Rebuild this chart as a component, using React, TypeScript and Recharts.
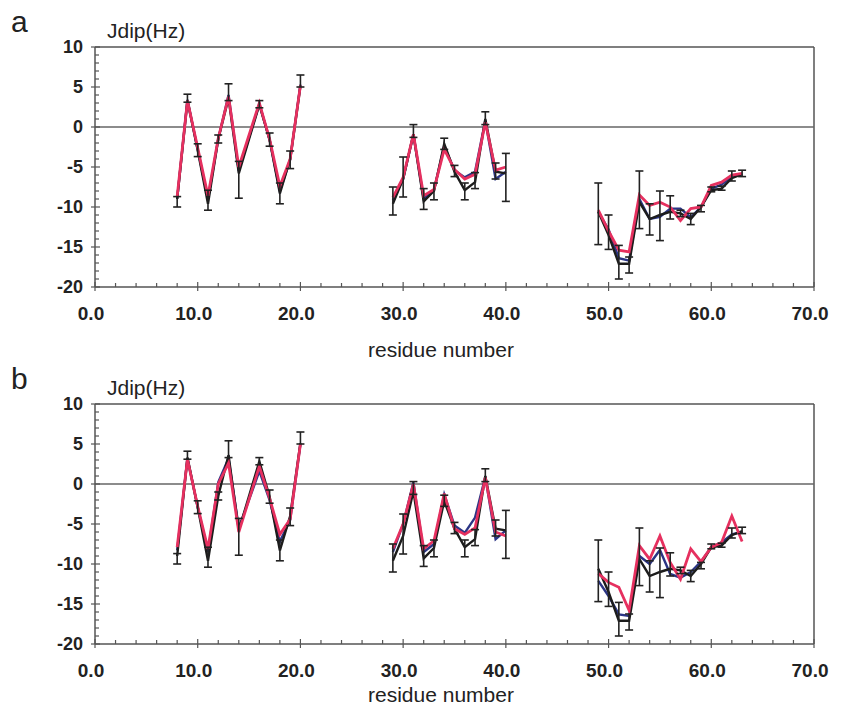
import React from 'react';
import { LineChart, Line, XAxis, YAxis, ReferenceLine, ErrorBar } from 'recharts';

const residues = [8, 9, 10, 11, 12, 13, 14, 16, 17, 18, 19, 20,
  29, 30, 31, 32, 33, 34, 35, 36, 37, 38, 39, 40,
  49, 50, 51, 52, 53, 54, 55, 56, 57, 58, 59, 60, 61, 62, 63];

const expJ = [-9.0, 3.3, -2.9, -9.6, -1.5, 3.6, -5.8, 2.8, -1.6, -8.3, -4.0, 5.1,
  -9.6, -6.5, -0.9, -9.3, -8.0, -2.1, -5.6, -7.9, -6.9, 1.0, -5.6, -5.8,
  -10.6, -13.5, -17.1, -17.1, -9.4, -11.5, -11.0, -10.6, -10.8, -11.5, -10.0, -7.9, -7.7, -6.4, -5.9];
const expLow = [-10.0, 3.1, -3.7, -10.4, -2.0, 3.3, -8.9, 2.4, -2.4, -9.6, -5.2, 5.0,
  -11.0, -8.75, -1.3, -10.3, -9.1, -2.8, -6.2, -9.1, -7.7, 0.3, -6.5, -9.3,
  -14.7, -15.3, -19.0, -18.25, -12.7, -13.5, -14.2, -11.5, -11.2, -12.2, -10.6, -8.1, -7.9, -6.75, -6.2];
const expHigh = [-8.7, 4.1, -2.1, -7.9, -1.0, 5.4, -4.3, 3.3, -0.75, -7.0, -3.0, 6.5,
  -7.5, -3.75, 0.3, -7.7, -7.0, -1.4, -4.8, -7.0, -5.7, 1.9, -4.5, -3.3,
  -7.0, -11.0, -14.8, -16.25, -5.5, -9.6, -8.0, -8.6, -10.4, -10.8, -9.8, -7.5, -7.4, -5.5, -5.4];

const blueA = [-9.0, 3.4, -2.8, -9.0, -1.5, 4.0, -5.5, 2.9, -1.6, -8.0, -4.1, 5.3,
  -9.2, -6.5, -0.9, -9.0, -7.9, -2.4, -5.4, -6.3, -5.6, 0.8, -6.5, -5.6,
  -10.6, -12.8, -16.4, -16.7, -9.0, -11.5, -11.25, -10.2, -10.2, -11.3, -10.0, -7.7, -7.2, -6.2, -5.9];
const redA = [-8.7, 3.3, -2.6, -8.6, -1.4, 3.8, -5.0, 3.0, -1.5, -7.4, -4.0, 5.2,
  -8.8, -6.3, -0.9, -8.6, -7.8, -2.8, -5.3, -6.5, -5.9, 0.6, -5.4, -5.0,
  -10.4, -13.0, -15.4, -15.6, -8.5, -9.8, -9.4, -10.0, -11.7, -10.2, -10.0, -7.3, -6.9, -6.0, -5.8];
const blueB = [-8.3, 3.2, -2.9, -8.5, 0.2, 3.2, -5.5, 1.6, -2.0, -7.2, -4.5, 5.0,
  -8.5, -5.0, 0.2, -8.5, -7.5, -1.3, -5.2, -6.1, -4.2, 0.9, -6.9, -5.8,
  -12.1, -14.0, -16.3, -16.5, -9.0, -10.0, -8.25, -11.25, -11.7, -11.0, -9.7, -7.9, -7.3, -6.3, -6.0];
const redB = [-7.9, 3.1, -2.8, -8.1, 0.0, 2.6, -6.0, 2.2, -1.8, -6.3, -4.4, 5.0,
  -8.1, -5.0, 0.0, -8.1, -7.1, -1.2, -5.6, -6.3, -5.5, 0.8, -6.0, -6.5,
  -11.2, -12.3, -12.9, -15.8, -7.7, -9.4, -6.5, -9.8, -11.9, -8.1, -9.7, -7.9, -7.3, -4.0, -7.2];

const xTicks = [0, 2, 4, 6, 8, 10, 12, 14, 16, 18, 20, 22, 24, 26, 28, 30, 32, 34, 36, 38, 40,
  42, 44, 46, 48, 50, 52, 54, 56, 58, 60, 62, 64, 66, 68, 70];
const yTicks = [-20, -19, -18, -17, -16, -15, -14, -13, -12, -11, -10, -9, -8, -7, -6, -5, -4, -3, -2, -1,
  0, 1, 2, 3, 4, 5, 6, 7, 8, 9, 10];

const FONT = '"Liberation Sans", Arial, Helvetica, sans-serif';
const AXIS = '#555';
const BLACK = '#1c1c1c';
const BLUE = '#2b3585';
const RED = '#e6305f';

type Row = { x: number; v: number; err?: number[] };

function segments(values: number[], withErr: boolean): Row[][] {
  const segs: Row[][] = [];
  let cur: Row[] = [];
  residues.forEach((r, i) => {
    if (i > 0 && r - residues[i - 1] > 3) {
      segs.push(cur);
      cur = [];
    }
    const row: Row = { x: r, v: values[i] };
    if (withErr) row.err = [values[i] - expLow[i], expHigh[i] - values[i]];
    cur.push(row);
  });
  segs.push(cur);
  return segs;
}

const XTick = (props: any) => {
  const { x, y, payload } = props;
  const major = payload.value % 10 === 0;
  return (
    <g>
      <line x1={x} x2={x} y1={major ? y + 4 : y} y2={y - (major ? 5 : 4)} stroke={AXIS} strokeWidth={1.2} />
      {major && (
        <text x={x - 4} y={y + 33} textAnchor="middle" fontFamily={FONT} fontWeight="bold" fontSize={19} fill="#222">
          {payload.value.toFixed(1)}
        </text>
      )}
    </g>
  );
};

const YTick = (props: any) => {
  const { x, y, payload } = props;
  const major = payload.value % 5 === 0;
  return (
    <g>
      <line x1={major ? x - 4 : x} x2={x + (major ? 5 : 4)} y1={y} y2={y} stroke={AXIS} strokeWidth={1.2} />
      {major && (
        <text x={x - 12} y={y + 6} textAnchor="end" fontFamily={FONT} fontWeight="bold" fontSize={18} fill="#222">
          {payload.value}
        </text>
      )}
    </g>
  );
};

function Panel({ blue, red }: { blue: number[]; red: number[] }) {
  const series = [
    { name: 'blue', segs: segments(blue, false), color: BLUE, w: 2.4 },
    { name: 'exp', segs: segments(expJ, false), color: BLACK, w: 2.4 },
    { name: 'red', segs: segments(red, false), color: RED, w: 2.8 },
  ];
  const errSegs = segments(expJ, true);
  return (
    <LineChart width={842} height={350} margin={{ top: 47, right: 28, bottom: 23, left: 35 }}>
      <XAxis type="number" dataKey="x" domain={[0, 70]} ticks={xTicks} interval={0} allowDataOverflow
        tickSize={0} tickMargin={0} tickLine={false} tick={<XTick />} height={40}
        axisLine={{ stroke: AXIS, strokeWidth: 1.5 }} />
      <YAxis type="number" domain={[-20, 10]} ticks={yTicks} interval={0} allowDataOverflow
        tickSize={0} tickMargin={0} tickLine={false} tick={<YTick />} width={60}
        axisLine={{ stroke: AXIS, strokeWidth: 1.5 }} />
      <ReferenceLine y={10} stroke={AXIS} strokeWidth={1.5} />
      <ReferenceLine x={70} stroke={AXIS} strokeWidth={1.5} />
      <ReferenceLine y={0} stroke="#666" strokeWidth={1.5} />
      {series.map((s) =>
        s.segs.map((seg, i) => (
          <Line key={s.name + i} data={seg} dataKey="v" type="linear" stroke={s.color} strokeWidth={s.w}
            dot={false} activeDot={false} isAnimationActive={false} />
        ))
      )}
      {errSegs.map((seg, i) => (
        <Line key={'err' + i} data={seg} dataKey="v" type="linear" stroke="none" strokeWidth={0}
          dot={false} activeDot={false} isAnimationActive={false}>
          <ErrorBar dataKey="err" direction="y" width={4} stroke="#222" strokeWidth={1.6} />
        </Line>
      ))}
    </LineChart>
  );
}

export default function App() {
  return (
    <div style={{ position: 'absolute', left: 0, top: 0, width: 842, height: 708, background: '#fff', overflow: 'hidden' }}>
      <div style={{ position: 'absolute', left: 0, top: 0 }}>
        <Panel blue={blueA} red={redA} />
      </div>
      <div style={{ position: 'absolute', left: 0, top: 357 }}>
        <Panel blue={blueB} red={redB} />
      </div>
      <svg width={842} height={708} style={{ position: 'absolute', left: 0, top: 0, pointerEvents: 'none' }}>
        <text x={11} y={32} fontFamily={FONT} fontSize={30} fill="#222">a</text>
        <text x={107} y={38} fontFamily={FONT} fontSize={21} fill="#222">Jdip(Hz)</text>
        <text x={441} y={357} textAnchor="middle" fontFamily={FONT} fontSize={21} fill="#222">residue number</text>
        <text x={11} y={389} fontFamily={FONT} fontSize={30} fill="#222">b</text>
        <text x={107} y={395} fontFamily={FONT} fontSize={21} fill="#222">Jdip(Hz)</text>
        <text x={441} y={702} textAnchor="middle" fontFamily={FONT} fontSize={21} fill="#222">residue number</text>
      </svg>
    </div>
  );
}
